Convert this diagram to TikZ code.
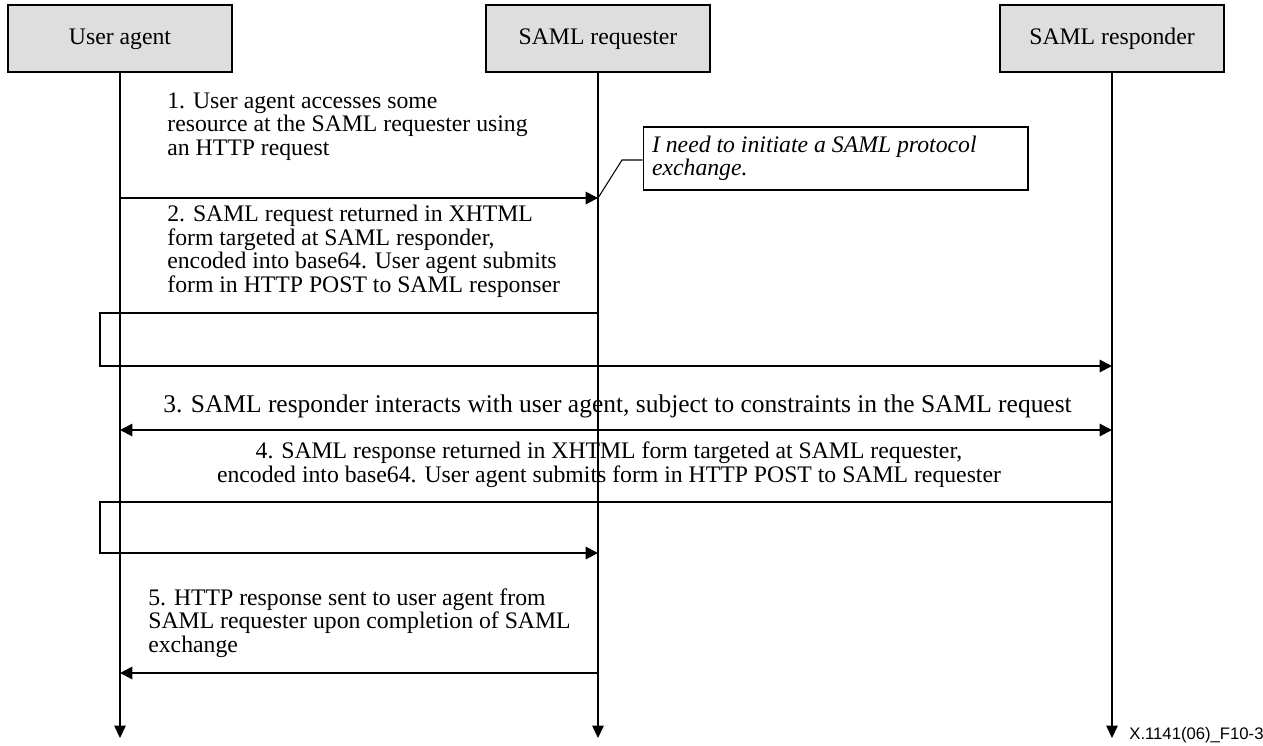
\documentclass[tikz,border=0pt]{standalone}
\usepackage{fontspec}
\setmainfont{Liberation Serif}
\newfontfamily\figfont{Liberation Sans}
\usetikzlibrary{arrows.meta}

\begin{document}
\begin{tikzpicture}[x=0.02cm,y=-0.02cm,
    actor/.style={draw,line width=1.3pt,fill=black!13,minimum width=4.48cm,
      minimum height=1.34cm,text height=9.5pt,text depth=3pt,
      font=\fontsize{13.5}{15}\selectfont},
    msg/.style={inner sep=0pt,align=left,font=\fontsize{13.5}{13.3}\selectfont},
    life/.style={line width=0.6pt,-{Triangle[length=7pt,width=6.5pt]}},
    call/.style={line width=1.1pt,-{Triangle[length=7pt,width=7pt]}},
    loop/.style={line width=1.1pt}]
    \useasboundingbox (0,0) rectangle (1263,745);

    % lifeline heads
    \node[actor] (ua) at (120,38.5) {User agent};
    \node[actor] (rq) at (598,38.5) {SAML requester};
    \node[actor] (rs) at (1112,38.5) {SAML responder};

    \coordinate (uaEnd) at (120,738);
    \coordinate (rqEnd) at (598,738);
    \coordinate (rsEnd) at (1112,738);
    \draw[life] (ua) -- (uaEnd);
    \draw[life] (rq) -- (rqEnd);
    \draw[life] (rs) -- (rsEnd);

    % 1 (base = last line)
    \node[msg,anchor=base west] (m1) at (167,155)
      {1. User agent accesses some\\resource at the SAML requester using\\an HTTP request};
    \coordinate (ua1) at (120,198);
    \coordinate (rq1) at (598,198);
    \draw[call] (ua1) -- (rq1);

    \node[draw,line width=0.6pt,minimum height=1.26cm,
      text width=7.34cm,align=flush left,inner xsep=0.18cm,inner ysep=0pt,
      font=\fontsize{13.5}{13.3}\selectfont\itshape] (note) at (835.5,158.5)
      {I need to initiate a SAML protocol\\exchange.};
    \coordinate (bend) at (622,160);
    \draw[line width=0.6pt] (rq1) -- (bend) -- (bend -| note.west);

    % 2
    \node[msg,anchor=base west] (m2) at (167,292)
      {2. SAML request returned in XHTML\\form targeted at SAML responder,\\encoded into base64. User agent submits\\form in HTTP POST to SAML responser};
    \coordinate (rq2) at (598,313);
    \coordinate (rs2) at (1112,366);
    \draw[loop] (rq2) -- (100,313) -- (100,366) -- (120,366);
    \draw[call] (100,366) -- (rs2);

    % 3
    \node[msg,anchor=base,font=\fontsize{14.5}{14}\selectfont] (m3) at (617.5,412)
      {3. SAML responder interacts with user agent, subject to constraints in the SAML request};
    \coordinate (ua3) at (120,430);
    \coordinate (rs3) at (1112,430);
    \draw[line width=1.1pt,{Triangle[length=7pt,width=7pt]}-{Triangle[length=7pt,width=7pt]}] (ua3) -- (rs3);

    % 4
    \node[msg,anchor=base,align=center] (m4) at (609,482)
      {4. SAML response returned in XHTML form targeted at SAML requester,\\encoded into base64. User agent submits form in HTTP POST to SAML requester};
    \coordinate (rs4) at (1112,502);
    \coordinate (rq4) at (598,553);
    \draw[loop] (rs4) -- (100,502) -- (100,553) -- (120,553);
    \draw[call] (100,553) -- (rq4);

    % 5
    \node[msg,anchor=base west] (m5) at (148,652)
      {5. HTTP response sent to user agent from\\SAML requester upon completion of SAML\\exchange};
    \coordinate (rq5) at (598,673);
    \coordinate (ua5) at (120,673);
    \draw[call] (rq5) -- (ua5);

    \node[anchor=west,inner sep=0pt,font=\figfont\fontsize{9.5}{11}\selectfont] (fig)
      at (1129,735) {X.1141(06)\_F10-3};
\end{tikzpicture}
\end{document}
